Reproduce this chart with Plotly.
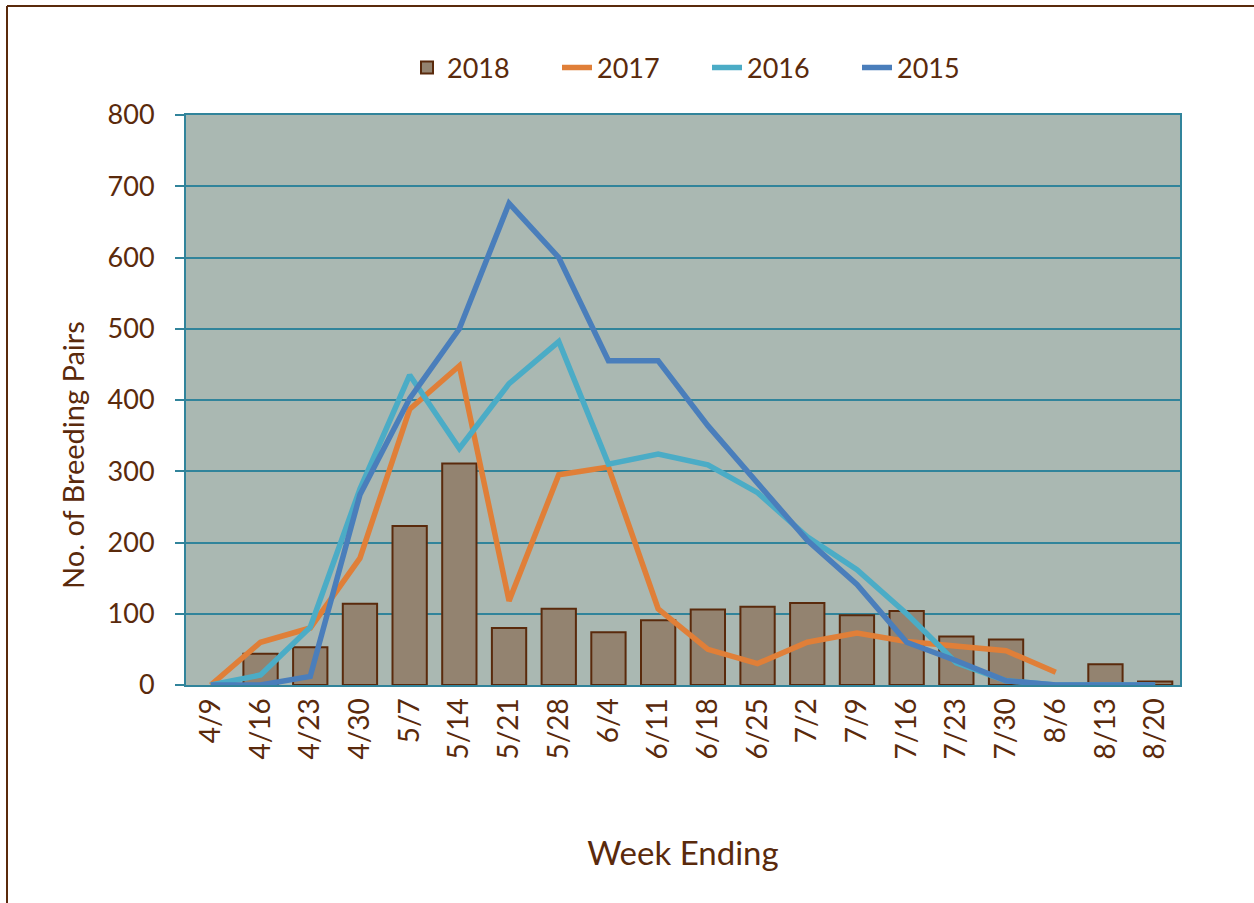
import plotly.graph_objects as go

weeks = ["4/9", "4/16", "4/23", "4/30", "5/7", "5/14", "5/21", "5/28", "6/4", "6/11",
         "6/18", "6/25", "7/2", "7/9", "7/16", "7/23", "7/30", "8/6", "8/13", "8/20"]
pairs_2018 = [None, 44, 53, 114, 223, 311, 80, 107, 74, 91, 106, 110, 115, 98, 104, 68, 64, None, 29, 5]
pairs_2017 = [0, 60, 80, 178, 387, 448, 118, 295, 306, 107, 50, 30, 60, 73, 61, 55, 48, 18, None, None]
pairs_2016 = [0, 14, 81, 275, 435, 332, 423, 482, 310, 324, 309, 270, 208, 162, 100, 31, 6, 0, 0, 0]
pairs_2015 = [0, 0, 12, 267, 402, 500, 676, 600, 455, 455, 364, 283, 203, 141, 60, 34, 6, 0, 0, 0]

BROWN = "#5a2a0c"
TEAL = "#31849b"
FONT = "Lato"

fig = go.Figure()
fig.add_trace(go.Bar(x=weeks, y=pairs_2018, name="2018",
                     marker=dict(color="#938370", line=dict(color=BROWN, width=2))))
fig.add_trace(go.Scatter(x=weeks, y=pairs_2017, name="2017", mode="lines",
                         line=dict(color="#e07f38", width=5.5)))
fig.add_trace(go.Scatter(x=weeks, y=pairs_2016, name="2016", mode="lines",
                         line=dict(color="#4bacc6", width=5.5)))
fig.add_trace(go.Scatter(x=weeks, y=pairs_2015, name="2015", mode="lines",
                         line=dict(color="#4a7ebb", width=5.5)))

fig.update_layout(
    width=1254, height=903,
    margin=dict(l=186, r=74, t=115, b=218),
    paper_bgcolor="white",
    plot_bgcolor="#aab8b2",
    font=dict(family=FONT, color=BROWN, size=27),
    bargap=0.31,
    showlegend=True,
    legend=dict(orientation="h", x=(407 - 186) / 994, xanchor="left",
                y=(685 - 68) / 570, yanchor="middle",
                font=dict(size=27, color=BROWN), traceorder="normal",
                entrywidth=105, entrywidthmode="pixels",
                bgcolor="rgba(0,0,0,0)"),
    xaxis=dict(type="category", tickangle=-90, showgrid=False, showline=True,
               linecolor=TEAL, linewidth=2, mirror=True, ticks="",
               tickfont=dict(size=28, color=BROWN),
               title=dict(text="Week Ending", font=dict(size=33, color=BROWN), standoff=83)),
    yaxis=dict(range=[0, 800], dtick=100, showgrid=True, gridcolor=TEAL, gridwidth=2,
               showline=True, linecolor=TEAL, linewidth=2, mirror=True,
               ticks="outside", ticklen=9, tickcolor=TEAL, tickwidth=2,
               ticklabelstandoff=15, zeroline=False,
               tickfont=dict(size=27, color=BROWN)),
    annotations=[
        dict(text="No. of Breeding Pairs", textangle=-90, showarrow=False,
             xref="paper", yref="paper",
             x=(72 - 186) / 994, y=(685 - 455) / 570,
             xanchor="center", yanchor="middle",
             font=dict(size=29, color=BROWN)),
    ],
    shapes=[
        dict(type="line", xref="paper", yref="paper",
             x0=(7 - 186) / 994, x1=(1254 - 186) / 994,
             y0=(685 - 6) / 570, y1=(685 - 6) / 570,
             line=dict(color=BROWN, width=2)),
        dict(type="line", xref="paper", yref="paper",
             x0=(7 - 186) / 994, x1=(7 - 186) / 994,
             y0=(685 - 6) / 570, y1=(685 - 903) / 570,
             line=dict(color=BROWN, width=2)),
    ],
)

fig.write_html("out.html", config={"displayModeBar": False},
               post_script="document.body.style.margin='0';document.body.style.overflow='hidden';")
